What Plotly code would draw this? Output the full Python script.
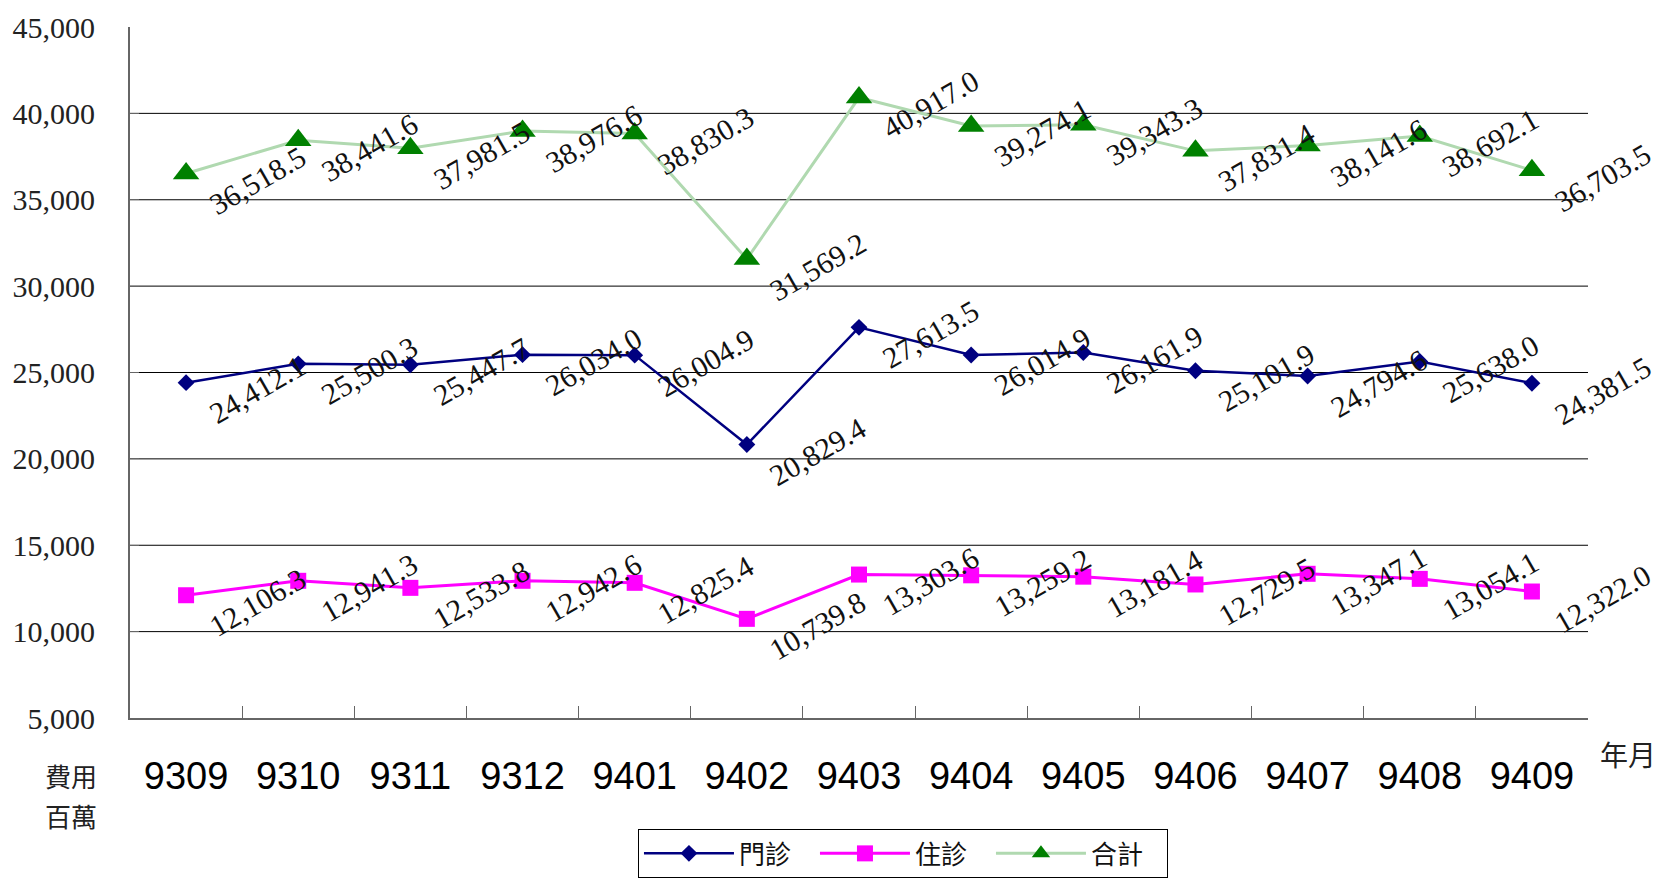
import plotly.graph_objects as go

months = ["9309", "9310", "9311", "9312", "9401", "9402", "9403",
          "9404", "9405", "9406", "9407", "9408", "9409"]
outpatient = [24412.1, 25500.3, 25447.7, 26034.0, 26004.9, 20829.4, 27613.5,
              26014.9, 26161.9, 25101.9, 24794.6, 25638.0, 24381.5]
inpatient = [12106.3, 12941.3, 12533.8, 12942.6, 12825.4, 10739.8, 13303.6,
             13259.2, 13181.4, 12729.5, 13347.1, 13054.1, 12322.0]
total = [36518.5, 38441.6, 37981.5, 38976.6, 38830.3, 31569.2, 40917.0,
         39274.1, 39343.3, 37831.4, 38141.6, 38692.1, 36703.5]
y_ticks = [5000, 10000, 15000, 20000, 25000, 30000, 35000, 40000, 45000]
grid_vals = [10000, 15000, 20000, 25000, 30000, 35000, 40000]

SERIF = "Liberation Serif, Times New Roman, serif"
CJK = "Noto Sans CJK TC, Noto Sans CJK SC, sans-serif"

fig = go.Figure()
fig.add_trace(go.Scatter(
    x=months, y=outpatient, name="門診", mode="lines+markers",
    line=dict(color="#000080", width=2.5),
    marker=dict(symbol="diamond", size=13, color="#000080"),
))
fig.add_trace(go.Scatter(
    x=months, y=inpatient, name="住診", mode="lines+markers",
    line=dict(color="#FF00FF", width=3),
    marker=dict(symbol="square", size=16, color="#FF00FF"),
))
fig.add_trace(go.Scatter(
    x=months, y=total, name="合計", mode="lines+markers",
    line=dict(color="#b0d9b0", width=3),
    marker=dict(symbol="triangle-up", size=23, color="#008000"),
))

annotations = []
for series in (outpatient, inpatient, total):
    for i, v in enumerate(series):
        annotations.append(dict(
            x=i, y=v, xref="x", yref="y", text=f"{v:,.1f}",
            showarrow=False, textangle=-30, xanchor="center", yanchor="middle",
            xshift=71, yshift=-7,
            font=dict(family=SERIF, size=30, color="#111111"),
        ))

annotations += [
    dict(x=-0.0405, y=-0.0839, xref="paper", yref="paper", text="費用",
         showarrow=False, xanchor="center", yanchor="middle",
         font=dict(family=CJK, size=26, color="#222222")),
    dict(x=-0.0405, y=-0.1404, xref="paper", yref="paper", text="百萬",
         showarrow=False, xanchor="center", yanchor="middle",
         font=dict(family=CJK, size=26, color="#222222")),
    dict(x=1.0274, y=-0.0521, xref="paper", yref="paper", text="年月",
         showarrow=False, xanchor="center", yanchor="middle",
         font=dict(family=CJK, size=28, color="#222222")),
]

shapes = [dict(type="line", xref="paper", x0=0, x1=1, yref="y", y0=g, y1=g,
               line=dict(color="#000000", width=1), layer="below")
          for g in grid_vals]

fig.update_layout(
    width=1660, height=880,
    margin=dict(l=122, r=80, t=19, b=170, autoexpand=False),
    paper_bgcolor="white", plot_bgcolor="white",
    showlegend=True,
    legend=dict(
        orientation="h", x=0.3484, xanchor="left", y=-0.1606, yanchor="top",
        bordercolor="#000000", borderwidth=1, bgcolor="white",
        font=dict(family=CJK, size=26, color="#111111"),
        entrywidth=71, entrywidthmode="pixels", itemwidth=90,
        traceorder="normal",
    ),
    xaxis=dict(
        type="category", range=[-0.5, len(months) - 0.5],
        showgrid=False, showline=True, linecolor="#666666",
        linewidth=2, ticks="inside", ticklen=12, tickcolor="#666666",
        tickwidth=1, tickson="boundaries", ticklabelstandoff=23,
        tickfont=dict(family="Liberation Sans, Arial, sans-serif", size=38,
                      color="#000000"),
        zeroline=False,
    ),
    yaxis=dict(
        range=[5000, 45000], tickvals=y_ticks, tickformat=",",
        showgrid=False, showline=True, linecolor="#666666", linewidth=2,
        ticks="inside", ticklen=9, tickcolor="#666666", tickwidth=1,
        ticklabelstandoff=27,
        tickfont=dict(family=SERIF, size=30, color="#222222"),
        zeroline=False,
    ),
    annotations=annotations,
    shapes=shapes,
)

fig.write_html("out.html")
